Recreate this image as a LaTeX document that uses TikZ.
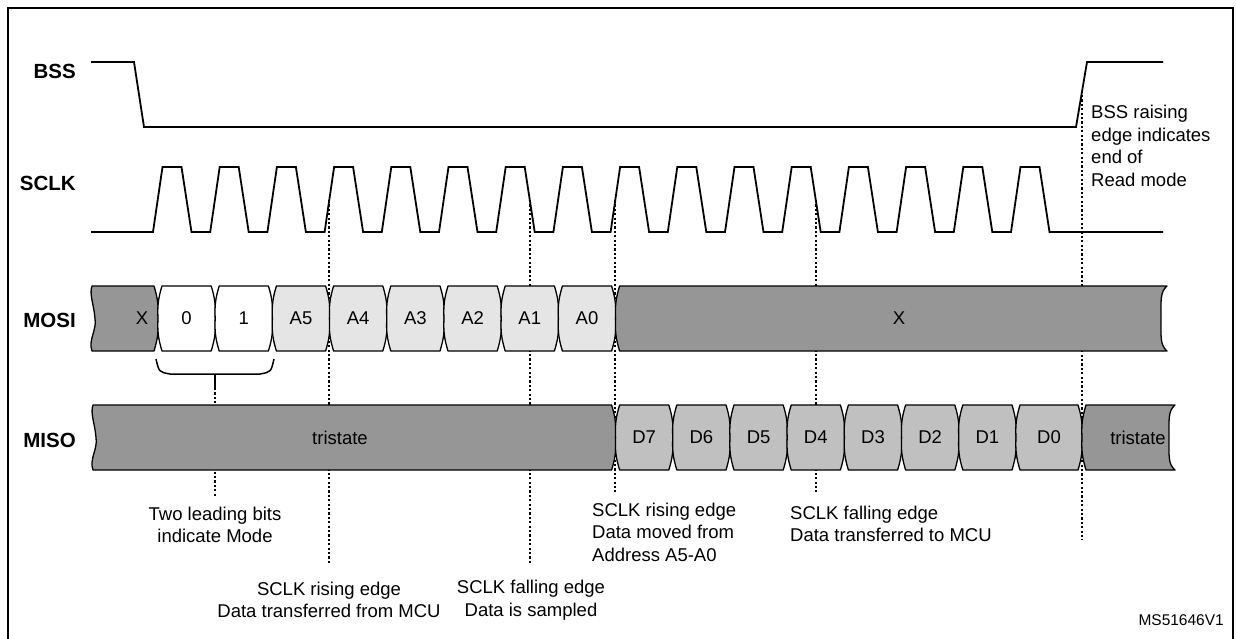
\documentclass[tikz,border=0pt]{standalone}
\usepackage{fontspec}
\setmainfont{Liberation Sans}
\usetikzlibrary{calc}

\definecolor{darkcell}{RGB}{150,150,150}
\definecolor{lightcell}{RGB}{229,229,229}
\definecolor{datacell}{RGB}{192,192,192}

\begin{document}
\begin{tikzpicture}[x=1pt,y=-1pt,
	wave/.style={line width=1.8pt},
	cell/.style={line width=1.3pt, line join=round},
	guide/.style={line width=2pt, dash pattern=on 2.2pt off 2.2pt},
	signame/.style={anchor=east, inner sep=0pt, font=\fontsize{20.5}{24}\selectfont\bfseries},
	celltext/.style={inner sep=0pt, font=\fontsize{18.5}{22}\selectfont},
	note/.style={inner sep=0pt, align=center, font=\fontsize{18.5}{22.5}\selectfont}]
	
	\useasboundingbox (0,0) rectangle (1236,638);
	\draw[line width=2.5pt] (8,660) -- (8,8) -- (1233,8) -- (1233,660);
	
	% edges that the notes refer to
	\coordinate (rise3) at (329.3,200);
	\coordinate (fall6) at (529.7,200);
	\coordinate (rise8) at (615.4,200);
	\coordinate (fall11) at (815.7,200);
	\coordinate (bssup) at (1082,95);
	\coordinate (rise3end) at (329.3,563);
	\coordinate (fall6end) at (529.7,563);
	\coordinate (rise8end) at (615.4,492);
	\coordinate (fall11end) at (815.7,492);
	\coordinate (bssupend) at (1082,540);
	\coordinate (brace) at (215,388);
	\coordinate (braceend) at (215,497);
	\draw[guide] (rise3) -- (rise3end);
	\draw[guide] (fall6) -- (fall6end);
	\draw[guide] (rise8) -- (rise8end);
	\draw[guide] (fall11) -- (fall11end);
	\draw[guide] (bssup) -- (bssupend);
	\draw[guide] (brace) -- (braceend);
	
	% BSS and SCLK
	\draw[wave] (91,62) -- (134,62) -- (144,127) -- (1076,127) -- (1087,62) -- (1163,62);
	\draw[wave] (91,232) \foreach \k in {0,...,15} {
		-- ({153+57.2*\k},232) -- ({162.5+57.2*\k},167) -- ({181.5+57.2*\k},167) -- ({191.5+57.2*\k},232)} -- (1163,232);
	
	% MOSI
	\draw[cell, fill=darkcell] (92,286) -- (154,286) to[bend left=10] (158,318.5) to[bend left=10] (154,351)
		-- (92,351) .. controls (88,340) and (97,330) .. (95,318.5) .. controls (94,305) and (89,294) .. (92,286) -- cycle;
	\node[celltext] (mosix) at (142,318.5) {X};
	\foreach \xa/\txt/\col [count=\i] in {158/0/white, 215.2/1/white, 272.4/A5/lightcell, 329.6/A4/lightcell,
		386.8/A3/lightcell, 444/A2/lightcell, 501.2/A1/lightcell, 558.4/A0/lightcell} {
		\pgfmathsetmacro{\xb}{\xa+57.2}
		\draw[cell, fill=\col] (\xa+4,286) -- (\xb-4,286) to[bend left=10] (\xb,318.5) to[bend left=10] (\xb-4,351)
			-- (\xa+4,351) to[bend left=10] (\xa,318.5) to[bend left=10] (\xa+4,286) -- cycle;
		\node[celltext] (mosi\i) at ({(\xa+\xb)/2},318.5) {\txt};
	}
	\draw[cell, fill=darkcell] (619.6,286) -- (1167,286) .. controls (1160,292) and (1161,300) .. (1161,318.5)
		.. controls (1161,337) and (1160,345) .. (1167,351) -- (619.6,351) to[bend left=10] (615.6,318.5)
		to[bend left=10] (619.6,286) -- cycle;
	\node[celltext] (mosirest) at (899,318.5) {X};
	
	% two leading bits
	\draw[line width=1.5pt] (156,359) .. controls (159,372) .. (170,374) -- (260,374) .. controls (271,372) .. (274,359);
	\draw[line width=1.5pt] (215,374) -- (brace);
	
	% MISO
	\draw[cell, fill=darkcell] (93,405) -- (611.6,405) to[bend left=10] (615.6,437.5) to[bend left=10] (611.6,470)
		-- (93,470) .. controls (89,459) and (98,449) .. (96,437.5) .. controls (95,424) and (90,413) .. (93,405) -- cycle;
	\node[celltext] (misoz) at (340,437.5) {tristate};
	\foreach \xa/\xb/\txt [count=\i] in {615.6/672.8/D7, 672.8/730/D6, 730/787.2/D5, 787.2/844.4/D4,
		844.4/901.6/D3, 901.6/958.8/D2, 958.8/1016/D1, 1016/1082/D0} {
		\draw[cell, fill=datacell] (\xa+4,405) -- (\xb-4,405) to[bend left=10] (\xb,437.5) to[bend left=10] (\xb-4,470)
			-- (\xa+4,470) to[bend left=10] (\xa,437.5) to[bend left=10] (\xa+4,405) -- cycle;
		\node[celltext] (miso\i) at ({(\xa+\xb)/2},437.5) {\txt};
	}
	\draw[cell, fill=darkcell] (1086,405) -- (1175,405) .. controls (1168,411) and (1169,419) .. (1169,437.5)
		.. controls (1169,456) and (1168,464) .. (1175,470) -- (1086,470) to[bend left=10] (1082,437.5)
		to[bend left=10] (1086,405) -- cycle;
	\node[celltext] (misoend) at (1138,437.5) {tristate};
	
	% signal names
	\node[signame] (bss) at (76,71) {BSS};
	\node[signame] (sclk) at (76,183) {SCLK};
	\node[signame] (mosi) at (76,320) {MOSI};
	\node[signame] (miso) at (76,440) {MISO};
	
	% notes
	\node[note] (mode) at (215,525) {Two leading bits\\indicate Mode};
	\node[note] (risefrom) at (329,600) {SCLK rising edge\\Data transferred from MCU};
	\node[note] (sampled) at (531,600) {SCLK falling edge\\Data is sampled};
	\node[note, anchor=west, align=left] (moved) at (592,532) {SCLK rising edge\\Data moved from\\Address A5-A0};
	\node[note, anchor=west, align=left] (fallto) at (790,524) {SCLK falling edge\\Data transferred to MCU};
	\node[note, anchor=west, align=left] (readend) at (1091,146) {BSS raising\\edge indicates\\end of\\Read mode};
	\node[inner sep=0pt, anchor=east, font=\fontsize{15.5}{18}\selectfont] (figid) at (1224,620) {MS51646V1};
	
\end{tikzpicture}
\end{document}
